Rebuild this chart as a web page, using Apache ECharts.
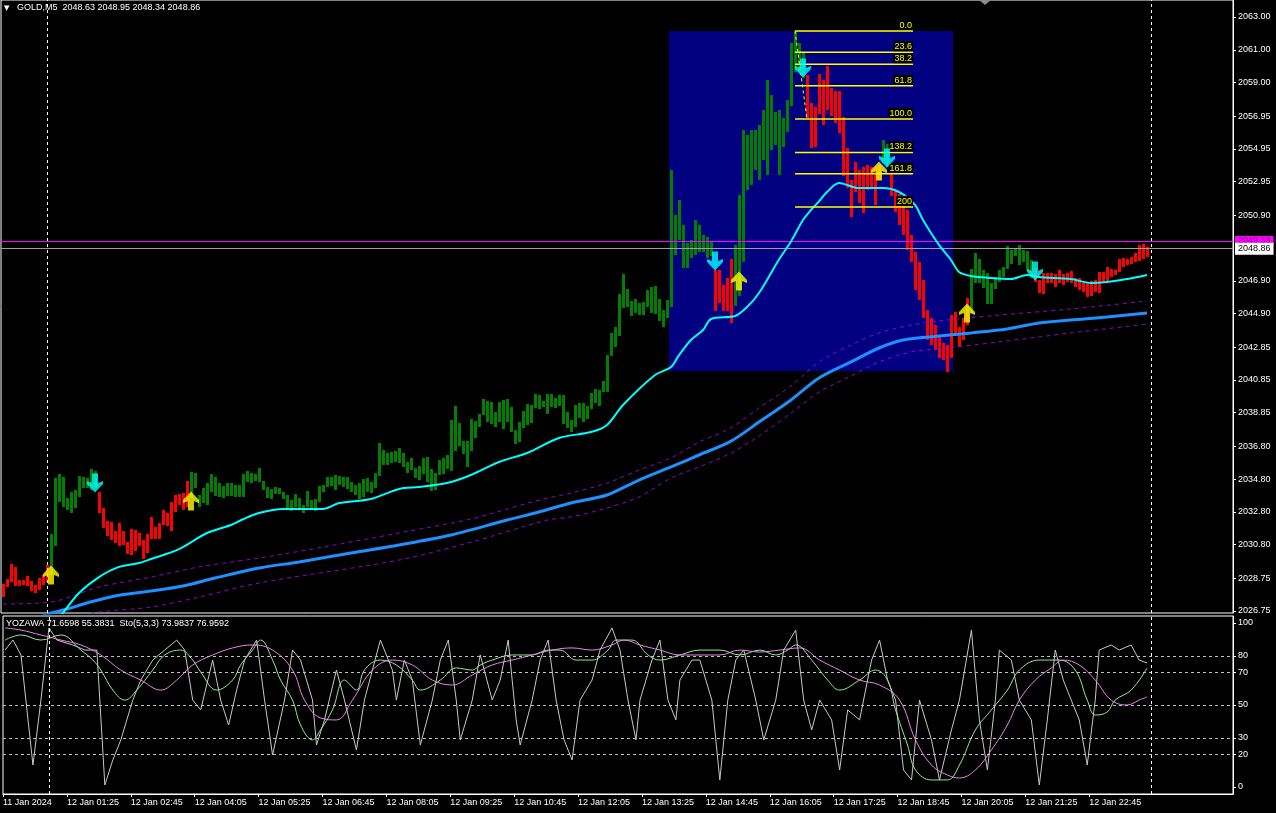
<!DOCTYPE html>
<html><head><meta charset="utf-8">
<script src="https://cdn.jsdelivr.net/npm/echarts@6/dist/echarts.min.js"></script>
<style>html,body{margin:0;padding:0;background:#000;}#c{width:1276px;height:813px;}</style>
</head><body><div id="c"></div>
<script>
// ---------------- DATA ----------------
const symbolName = 'GOLD,M5';
const headerQuote = '2048.63 2048.95 2048.34 2048.86';
const oscTitle = 'YOZAWA 71.6598 55.3831  Sto(5,3,3) 73.9837 76.9592';

const timeLabels = ['11 Jan 2024','12 Jan 01:25','12 Jan 02:45','12 Jan 04:05','12 Jan 05:25','12 Jan 06:45','12 Jan 08:05','12 Jan 09:25','12 Jan 10:45','12 Jan 12:05','12 Jan 13:25','12 Jan 14:45','12 Jan 16:05','12 Jan 17:25','12 Jan 18:45','12 Jan 20:05','12 Jan 21:25','12 Jan 22:45'];
const priceTickLabels = ['2063.00','2061.00','2059.00','2056.95','2054.95','2052.95','2050.90','2046.90','2044.90','2042.85','2040.85','2038.85','2036.80','2034.80','2032.80','2030.80','2028.75','2026.75'];
const oscTickLabels = [100, 80, 70, 50, 30, 20, 0];
const oscLevels = [80, 70, 50, 30, 20];

const barHigh = [
2028.40,2028.70,2029.62,2029.44,2028.64,2028.64,2028.89,2028.58,2028.34,2028.76,
2028.95,2029.56,2031.45,2034.86,2035.11,2034.93,2033.65,2034.01,2034.13,2034.99,
2034.93,2034.86,2035.41,2035.29,2034.01,2033.04,2032.24,2032.18,2031.63,2032.12,
2031.63,2030.96,2031.76,2031.69,2031.51,2031.08,2031.45,2032.48,2031.88,2032.12,
2032.91,2032.73,2033.40,2033.83,2033.89,2033.95,2034.68,2035.23,2035.17,2033.83,
2034.26,2034.56,2035.11,2034.93,2034.56,2034.38,2034.56,2034.56,2034.44,2034.44,
2035.11,2035.29,2035.17,2035.11,2035.47,2034.68,2034.32,2034.19,2034.32,2034.26,
2034.01,2033.83,2033.52,2033.89,2033.65,2033.22,2034.07,2033.52,2033.58,2034.38,
2034.44,2034.93,2034.93,2035.05,2034.99,2034.93,2034.93,2034.62,2034.44,2034.56,
2034.80,2034.86,2034.62,2035.17,2037.00,2036.58,2036.39,2036.45,2036.51,2036.70,
2036.39,2035.84,2036.09,2035.47,2035.60,2036.09,2036.15,2035.41,2035.17,2035.96,
2036.09,2036.27,2038.41,2039.26,2038.22,2037.12,2037.12,2038.47,2038.35,2038.77,
2039.69,2039.57,2039.50,2038.89,2039.50,2039.63,2039.69,2039.20,2037.80,2038.28,
2038.96,2039.38,2039.32,2039.99,2039.93,2039.57,2039.99,2039.99,2039.75,2039.93,
2039.93,2038.89,2038.41,2039.32,2039.44,2039.44,2039.26,2040.05,2040.30,2040.24,
2040.79,2042.37,2043.72,2044.08,2046.10,2047.32,2046.40,2045.67,2045.79,2045.55,
2045.61,2046.34,2046.52,2046.58,2045.79,2045.12,2045.73,2053.66,2050.92,2051.83,
2050.31,2049.21,2049.39,2050.61,2050.31,2049.70,2049.57,2049.27,2047.56,2047.56,
2046.64,2047.07,2048.23,2049.09,2052.14,2056.10,2055.80,2056.10,2056.10,2056.41,
2057.32,2059.16,2058.24,2057.20,2057.32,2056.84,2057.93,2061.41,2062.08,2061.41,
2060.80,2059.46,2057.75,2057.51,2059.52,2059.16,2060.01,2058.67,2058.48,2058.48,
2056.90,2055.01,2053.05,2054.15,2053.66,2053.85,2053.97,2053.85,2053.85,2053.97,
2055.49,2055.25,2054.09,2052.44,2052.20,2051.53,2051.22,2049.70,2048.66,2048.05,
2046.95,2045.12,2044.63,2044.20,2043.59,2043.11,2042.98,2044.81,2045.00,2044.08,
2044.63,2045.85,2047.62,2048.60,2048.23,2047.56,2047.38,2046.77,2047.13,2047.56,
2047.74,2049.02,2048.78,2048.90,2049.09,2048.78,2048.72,2048.17,2047.68,2046.95,
2047.38,2047.38,2047.38,2047.32,2047.56,2047.32,2047.38,2047.50,2047.07,2047.07,
2046.77,2046.77,2046.89,2046.95,2047.44,2047.44,2047.74,2047.62,2047.56,2048.23,
2048.29,2048.23,2048.35,2048.60,2049.09,2049.15,2048.95];
const barLow = [
2027.60,2028.21,2028.52,2028.28,2028.28,2028.34,2028.28,2027.97,2027.85,2028.03,
2028.34,2028.52,2028.95,2030.71,2033.40,2033.10,2032.91,2032.73,2033.04,2033.71,
2034.26,2034.26,2034.13,2034.26,2032.73,2031.82,2031.33,2031.08,2030.90,2030.71,
2030.78,2030.23,2030.17,2030.41,2030.71,2029.92,2030.29,2031.14,2031.14,2031.14,
2032.00,2031.94,2031.63,2032.79,2033.22,2032.91,2033.10,2033.65,2034.26,2033.10,
2033.34,2033.22,2034.01,2033.77,2033.71,2033.65,2033.77,2033.77,2033.71,2033.71,
2033.71,2034.62,2034.56,2034.68,2034.62,2034.13,2033.65,2033.58,2033.89,2033.89,
2033.58,2033.04,2032.85,2033.10,2032.97,2032.73,2033.10,2032.97,2032.85,2033.40,
2034.01,2034.32,2034.38,2034.13,2034.44,2034.32,2034.19,2034.01,2033.83,2033.58,
2033.71,2034.01,2033.95,2034.26,2034.99,2035.66,2035.66,2035.78,2035.84,2035.78,
2035.54,2035.17,2035.35,2034.86,2034.74,2035.11,2034.62,2034.07,2034.13,2035.05,
2035.11,2035.41,2035.29,2036.51,2036.82,2036.33,2035.54,2036.51,2037.31,2037.98,
2038.71,2038.28,2038.16,2037.98,2038.28,2037.86,2038.28,2037.67,2036.94,2037.06,
2037.92,2038.10,2038.22,2039.14,2039.08,2039.20,2038.77,2039.20,2039.14,2039.26,
2038.16,2037.92,2037.67,2037.98,2038.53,2038.28,2038.47,2039.08,2039.44,2039.26,
2040.12,2040.12,2042.31,2042.86,2043.53,2045.24,2045.30,2044.75,2044.94,2044.81,
2044.81,2045.30,2044.94,2044.87,2044.45,2044.08,2044.63,2045.30,2048.48,2049.39,
2047.68,2047.68,2048.29,2048.48,2048.66,2048.66,2048.29,2048.41,2045.06,2045.55,
2045.06,2045.06,2044.33,2045.36,2045.97,2048.05,2052.44,2052.75,2053.66,2053.05,
2054.27,2053.36,2054.88,2055.19,2053.36,2055.07,2055.98,2057.57,2059.64,2059.64,
2059.28,2056.84,2055.01,2055.07,2057.08,2056.41,2057.32,2056.96,2056.53,2055.92,
2053.30,2052.56,2050.79,2052.32,2051.65,2051.04,2052.44,2052.56,2051.53,2053.05,
2054.09,2053.85,2052.08,2051.10,2050.31,2049.70,2048.78,2048.05,2046.34,2045.73,
2044.63,2043.29,2042.98,2042.68,2042.19,2042.07,2041.34,2042.19,2043.59,2042.86,
2043.29,2044.20,2044.94,2046.77,2046.77,2046.46,2045.49,2045.49,2046.40,2046.83,
2047.13,2047.62,2047.93,2048.41,2047.87,2048.05,2047.56,2047.07,2046.83,2046.16,
2046.10,2046.77,2046.77,2046.52,2046.77,2046.64,2046.83,2046.77,2046.52,2046.34,
2046.22,2045.91,2045.97,2046.22,2046.16,2046.83,2046.89,2047.13,2047.25,2047.44,
2047.74,2047.87,2047.93,2048.05,2048.11,2048.23,2048.34];
const barUp = [
0,0,0,0,0,0,0,0,0,0, 0,0,1,1,1,1,1,1,1,1, 1,1,1,1,0,0,0,0,0,0, 0,0,0,0,0,0,0,0,0,0,
0,0,0,0,0,0,0,1,1,1, 1,1,1,1,1,1,1,1,1,1, 1,1,1,1,1,1,1,1,1,1, 1,1,1,1,1,1,1,1,1,1,
1,1,1,1,1,1,1,1,1,1, 1,1,1,1,1,1,1,1,1,1, 1,1,1,1,1,1,1,1,1,1, 1,1,1,1,1,1,1,1,1,1,
1,1,1,1,1,1,1,1,1,1, 1,1,1,1,1,1,1,1,1,1, 1,1,1,1,1,1,1,1,1,1, 1,1,1,1,1,1,1,1,1,1,
1,1,1,1,1,1,1,1,1,1, 1,1,1,1,1,1,1,1,0,0, 0,0,0,1,1,1,1,1,1,1, 1,1,1,1,1,1,1,1,1,1,
1,0,0,0,0,0,0,0,0,0, 0,0,0,0,0,0,0,0,0,0, 1,1,0,0,0,0,0,0,0,0, 0,0,0,0,0,0,0,0,0,0,
0,0,1,1,1,1,1,1,1,1, 1,1,1,1,1,1,1,1,0,0, 0,0,0,0,0,0,0,0,0,0, 0,0,0,0,0,0,0,0,0,0,
0,0,0,0,0,0,0];

const fastMA = [[13,2025.9],[15,2026.63],[19,2027.85],[24,2028.82],[29,2029.44],[34,2029.68],[37,2029.92],[44,2030.53],[51,2031.51],[57,2032.00],[60,2032.35],[64,2032.73],[70,2032.98],[80,2032.98],[84,2033.34],[92,2033.59],[99,2034.20],[104,2034.32],[111,2034.56],[117,2035.05],[124,2035.84],[131,2036.39],[139,2037.31],[147,2037.67],[151,2038.10],[155,2039.32],[163,2041.15],[167,2041.64],[169,2042.37],[172,2043.29],[175,2043.90],[177,2044.57],[183,2044.75],[186,2045.30],[189,2046.16],[194,2048.20],[197,2049.30],[200,2050.61],[202,2051.22],[204,2051.75],[206,2052.32],[209,2052.87],[214,2052.56],[220,2052.56],[224,2052.32],[228,2051.53],[230,2050.61],[234,2049.09],[237,2048.17],[239,2047.44],[242,2047.19],[247,2047.07],[252,2047.01],[256,2047.26],[259,2047.13],[267,2047.01],[272,2046.77],[276,2046.83],[281,2047.01],[286,2047.26]];
const slowMA = [[10,2026.45],[12,2026.63],[16,2026.87],[21,2027.24],[28,2027.67],[37,2027.97],[45,2028.28],[53,2028.76],[64,2029.37],[74,2029.74],[87,2030.29],[99,2030.78],[112,2031.39],[126,2032.30],[134,2032.79],[142,2033.34],[151,2033.83],[159,2034.74],[167,2035.54],[174,2036.27],[182,2037.12],[189,2038.28],[197,2039.63],[204,2040.97],[212,2041.95],[219,2042.80],[225,2043.29],[234,2043.53],[242,2043.72],[251,2043.96],[259,2044.33],[267,2044.51],[276,2044.69],[286,2044.94]];
const envUpper = [[0,2027.18],[12,2027.30],[24,2028.21],[37,2028.82],[49,2029.44],[64,2029.98],[80,2030.65],[99,2031.51],[117,2032.36],[126,2032.97],[134,2033.52],[142,2033.95],[151,2034.56],[159,2035.35],[167,2036.09],[174,2037.06],[182,2037.92],[189,2039.14],[197,2040.48],[204,2041.95],[212,2042.98],[219,2043.72],[227,2044.20],[234,2044.45],[249,2044.81],[267,2045.18],[286,2045.67]];
const envLower = [[18,2026.40],[24,2026.69],[37,2026.99],[49,2027.60],[64,2028.46],[99,2029.86],[117,2030.95],[136,2032.30],[142,2032.49],[151,2033.04],[159,2033.71],[167,2034.87],[174,2035.54],[182,2036.39],[189,2037.43],[197,2038.83],[204,2040.11],[212,2041.09],[219,2041.95],[227,2042.56],[234,2042.74],[249,2043.17],[267,2043.72],[286,2044.26]];

const upArrows = [[12,2028.95],[47,2033.46],[184,2046.89],[219,2053.60],[241,2044.94]];
const downArrows = [[23,2034.56],[178,2048.11],[200,2059.89],[221,2054.40],[258,2047.50]];

const fibLevelLabels = ['0.0','23.6','38.2','61.8','100.0','138.2','161.8','200'];
const fibPrices = [2062.15,2060.85,2060.12,2058.80,2056.78,2054.73,2053.44,2051.41];
const fibSpanBars = [198, 227.5];
const fibAnchor = [[198,2062.15],[201,2056.78]];
const boxBars = [166.5, 237.5];
const boxPrices = [2062.15, 2041.40];
const askPrice = 2049.33;
const bidPrice = 2048.86;
const separatorBars = [11, 287];

const oscSilver = [[0,83.5],[2,89.6],[4,80.5],[7,13.4],[9,53],[11,97],[13,89.6],[17,86.6],[20,83.5],[23,83.5],[25,1.2],[27,16.5],[29,28.7],[32,53],[34,65.2],[37,77.4],[40,83.5],[43,89.6],[45,83.5],[47,53],[49,47],[52,77.4],[54,53],[56,37.8],[58,59.1],[60,77.4],[63,89.6],[65,53],[67,19.5],[70,53],[72,83.5],[74,77.4],[77,53],[78,25.6],[80,40.9],[83,71.3],[85,53],[88,22.6],[90,53],[94,89.6],[97,71.3],[98,53],[100,77.4],[102,65.2],[104,25.6],[107,53],[109,77.4],[111,89.6],[113,53],[114,28.7],[117,53],[119,80.5],[122,53],[124,65.2],[126,89.6],[128,40.9],[129,25.6],[132,53],[134,77.4],[136,89.6],[138,53],[140,28.7],[142,16.5],[144,53],[147,65.2],[149,83.5],[152,97],[154,83.5],[156,53],[158,28.7],[159,53],[162,77.4],[164,89.6],[166,53],[168,40.9],[169,65.2],[172,77.4],[174,77.4],[177,53],[179,4.3],[181,53],[183,77.4],[185,83.5],[188,53],[190,28.7],[193,53],[195,83.5],[198,95.7],[200,53],[202,34.8],[204,53],[207,40.9],[209,10.4],[211,47],[214,40.9],[217,77.4],[219,89.6],[221,65.2],[223,53],[225,10.4],[227,4.3],[228,28.7],[229,53],[232,28.7],[234,4.3],[237,34.8],[239,53],[242,95.7],[244,40.9],[246,10.4],[248,53],[249,83.5],[252,77.4],[254,53],[257,40.9],[259,1.2],[261,40.9],[263,83.5],[265,65.2],[267,53],[269,40.9],[271,13.4],[273,53],[274,83.5],[277,86.6],[279,83.5],[282,86.6],[284,77.4],[286,75.6]];
const oscGreen = [[0,89.6],[4,92.7],[9,89.6],[14,92.7],[19,83.5],[22,77.4],[24,71.3],[27,59.1],[30,53],[33,59.1],[37,71.3],[40,80.5],[44,83.5],[47,77.4],[49,70.1],[53,59.1],[57,65.2],[59,74.4],[62,83.5],[64,89.6],[67,77.4],[69,65.2],[72,53],[74,37.8],[77,28.7],[79,34.8],[82,47],[85,65.2],[88,59.1],[90,71.3],[94,77.4],[98,74.4],[102,65.2],[104,59.1],[109,65.2],[113,72.6],[117,71.3],[119,74.4],[122,77.4],[127,80.5],[132,80.5],[136,83.5],[139,83.5],[143,77.4],[147,77.4],[151,83.5],[153,89.6],[157,89.6],[161,80.5],[164,77.4],[169,80.5],[174,83.5],[179,83.5],[184,80.5],[189,83.5],[193,80.5],[196,83.5],[198,86.6],[202,77.4],[206,65.2],[209,59.1],[214,65.2],[218,71.3],[221,65.2],[223,47],[226,25.6],[228,10.4],[232,4.3],[236,4.3],[239,13.4],[243,34.8],[247,47],[251,59.1],[254,71.3],[259,77.4],[264,77.4],[268,71.3],[271,53],[273,43.9],[276,45.7],[278,53],[282,59.1],[286,72.6]];
const oscViolet = [[0,97],[4,95.7],[9,92.7],[14,89.6],[19,86.6],[24,80.5],[29,71.3],[34,65.2],[39,59.1],[43,65.2],[47,74.4],[52,80.5],[57,84.8],[62,86.6],[67,83.5],[72,71.3],[75,53],[79,42.1],[83,40.9],[87,53],[92,71.3],[97,77.4],[102,74.4],[107,65.2],[112,62.2],[117,68.3],[122,74.4],[127,77.4],[132,80.5],[137,83.5],[142,84.8],[147,83.5],[152,86.6],[155,89.6],[159,86.6],[164,83.5],[169,80.5],[174,80.5],[179,80.5],[184,83.5],[189,82.3],[194,83.5],[199,84.8],[204,77.4],[209,71.3],[214,65.2],[219,62.2],[224,53],[228,28.7],[232,13.4],[236,7.3],[239,5.5],[243,10.4],[247,22.6],[251,37.8],[254,53],[258,65.2],[262,72.6],[265,77.4],[269,74.4],[273,65.2],[277,53],[281,50],[284,53],[286,54.9]];

// ---------------- CHART ----------------
const FONT = 'Liberation Sans';
const chart = echarts.init(document.getElementById('c'), null, {renderer: 'canvas'});
const upPath = 'path://M8,0 L16,8 L16,11 L11,9 L11,18 L5,18 L5,9 L0,11 L0,8 Z';
const downPath = 'path://M8,18 L16,10 L16,7 L11,9 L11,0 L5,0 L5,9 L0,7 L0,10 Z';
const axisLineStyle = {show: true, onZero: false, lineStyle: {color: '#fff'}};

const option = {
  backgroundColor: '#000',
  animation: false,
  grid: [
    {left: 1, top: 0, width: 1232, height: 613, show: true, borderColor: '#fff', borderWidth: 1, backgroundColor: 'transparent'},
    {left: 1, top: 616, width: 1232, height: 178, show: true, borderColor: '#fff', borderWidth: 1, backgroundColor: 'transparent'}
  ],
  xAxis: [
    {type: 'value', gridIndex: 0, min: -0.5, max: 307.5, show: false, axisLine: {onZero: false}},
    {type: 'value', gridIndex: 1, min: -0.5, max: 307.5,
      splitLine: {show: false},
      axisLine: axisLineStyle,
      axisTick: {show: true, length: 3, lineStyle: {color: '#fff'}, customValues: timeLabels.map((_, k) => 16 * k - 0.5)},
      axisLabel: {show: true, color: '#fff', fontFamily: FONT, fontSize: 9, margin: 4, align: 'left',
        customValues: timeLabels.map((_, k) => 16 * k - 0.5),
        formatter: v => timeLabels[Math.round((v + 0.5) / 16)] || ''}
    }
  ],
  yAxis: [
    {type: 'value', gridIndex: 0, position: 'right', min: 2026.628, max: 2064.037,
      splitLine: {show: false},
      axisLine: axisLineStyle,
      axisTick: {show: true, length: 3, lineStyle: {color: '#fff'}, customValues: priceTickLabels.map(Number)},
      axisLabel: {show: true, color: '#fff', fontFamily: FONT, fontSize: 9, margin: 5,
        customValues: priceTickLabels.map(Number), formatter: v => v.toFixed(2)}
    },
    {type: 'value', gridIndex: 1, position: 'right', min: -4.27, max: 104.27,
      splitLine: {show: false},
      axisLine: axisLineStyle,
      axisTick: {show: true, length: 3, lineStyle: {color: '#fff'}, customValues: oscTickLabels},
      axisLabel: {show: true, color: '#fff', fontFamily: FONT, fontSize: 9, margin: 5, customValues: oscTickLabels}
    }
  ],
  graphic: [
    {type: 'text', left: 4, top: 5, style: {text: '\u25BC', fill: '#fff', font: '7px "DejaVu Sans"'}},
    {type: 'polygon', z: 100, shape: {points: [[979, 0], [991, 0], [985, 5]]}, style: {fill: '#8a8a8a'}},
    {type: 'text', left: 17, top: 3, style: {text: symbolName + '  ' + headerQuote, fill: '#fff', font: '9px "' + FONT + '"'}},
    {type: 'text', left: 6, top: 619, z: 100, style: {text: oscTitle, fill: '#fff', font: '9px "' + FONT + '"'}}
  ],
  series: [
    {type: 'custom', xAxisIndex: 0, yAxisIndex: 0, z: 1, silent: true,
      data: [[boxBars[0], boxBars[1], boxPrices[0], boxPrices[1]]],
      renderItem: (p, api) => {
        const a = api.coord([api.value(0), api.value(2)]);
        const b = api.coord([api.value(1), api.value(3)]);
        return {type: 'rect', shape: {x: a[0], y: a[1], width: b[0] - a[0], height: b[1] - a[1]}, style: {fill: '#000080'}};
      }},
    {type: 'custom', xAxisIndex: 0, yAxisIndex: 0, z: 3, silent: true,
      data: barHigh.map((h, i) => [i, barLow[i], h, barUp[i]]),
      encode: {x: 0, y: [1, 2]},
      renderItem: (p, api) => {
        const i = api.value(0);
        const lo = api.coord([i, api.value(1)]);
        const hi = api.coord([i, api.value(2)]);
        const x = Math.round(lo[0] - 1.5);
        const y = Math.round(hi[1]);
        const h = Math.max(1, Math.round(lo[1]) - y);
        return {type: 'rect', shape: {x: x, y: y, width: 3, height: h}, style: {fill: api.value(3) ? '#008000' : '#FF0000'}};
      }},
    {type: 'line', xAxisIndex: 0, yAxisIndex: 0, z: 4, data: envUpper, showSymbol: false, smooth: 0.3, lineStyle: {color: '#9400D3', width: 1, type: [4, 4]}},
    {type: 'line', xAxisIndex: 0, yAxisIndex: 0, z: 4, data: envLower, showSymbol: false, smooth: 0.3, lineStyle: {color: '#9400D3', width: 1, type: [4, 4]}},
    {type: 'line', xAxisIndex: 0, yAxisIndex: 0, z: 4, data: slowMA, showSymbol: false, smooth: 0.3, lineStyle: {color: '#1E90FF', width: 3}},
    {type: 'line', xAxisIndex: 0, yAxisIndex: 0, z: 5, data: fastMA, showSymbol: false, smooth: 0.3, lineStyle: {color: '#00FFFF', width: 2},
      markLine: {silent: true, symbol: ['none', 'none'], animation: false,
        data: [
          {yAxis: askPrice, lineStyle: {color: '#FF00FF', width: 1, type: 'solid'},
            label: {show: true, position: 'end', distance: 2, formatter: askPrice.toFixed(2), color: '#8B008B', backgroundColor: '#FF00FF', fontFamily: FONT, fontSize: 9, padding: [1, 3, 0, 3]}},
          {yAxis: bidPrice, lineStyle: {color: '#A0A0A0', width: 1, type: 'solid'},
            label: {show: true, position: 'end', distance: 2, formatter: bidPrice.toFixed(2), color: '#000', backgroundColor: '#fff', fontFamily: FONT, fontSize: 9, padding: [2, 3, 1, 3]}}
        ].concat(separatorBars.map(b => ({xAxis: b, lineStyle: {color: '#fff', width: 1, type: [3, 3]}, label: {show: false}})))
      }},
    {type: 'line', xAxisIndex: 0, yAxisIndex: 0, z: 6, data: fibAnchor, showSymbol: false, lineStyle: {color: '#FFFF00', width: 1, type: [3, 3]}},
    {type: 'custom', xAxisIndex: 0, yAxisIndex: 0, z: 6, silent: true,
      data: fibPrices.map((p, k) => [fibSpanBars[0], p, k]),
      renderItem: (p, api) => {
        const a = api.coord([fibSpanBars[0], api.value(1)]);
        const b = api.coord([fibSpanBars[1], api.value(1)]);
        return {type: 'group', children: [
          {type: 'line', shape: {x1: a[0], y1: a[1], x2: b[0], y2: b[1]}, style: {stroke: '#FFFF00', lineWidth: 1.5}},
          {type: 'text', style: {text: fibLevelLabels[api.value(2)], x: b[0], y: a[1] - 1, align: 'right', verticalAlign: 'bottom',
            fill: '#FFFF00', font: '9px "' + FONT + '"', backgroundColor: '#000', padding: [1, 1, 0, 1]}}
        ]};
      }},
    {type: 'scatter', xAxisIndex: 0, yAxisIndex: 0, z: 7, data: upArrows, symbol: upPath, symbolSize: [16, 19], itemStyle: {color: '#FFFF00'}, silent: true},
    {type: 'scatter', xAxisIndex: 0, yAxisIndex: 0, z: 7, data: downArrows, symbol: downPath, symbolSize: [16, 19], itemStyle: {color: '#00FFFF'}, silent: true},
    {type: 'line', xAxisIndex: 1, yAxisIndex: 1, z: 3, data: oscSilver, showSymbol: false, lineStyle: {color: '#C8C8C8', width: 1},
      markLine: {silent: true, symbol: ['none', 'none'], animation: false, label: {show: false},
        data: oscLevels.map(v => ({yAxis: v, lineStyle: {color: '#C0C0C0', width: 1, type: [3, 3]}}))
          .concat(separatorBars.map(b => ({xAxis: b, lineStyle: {color: '#fff', width: 1, type: [3, 3]}})))}},
    {type: 'line', xAxisIndex: 1, yAxisIndex: 1, z: 4, data: oscGreen, showSymbol: false, smooth: 0.4, lineStyle: {color: '#90EE90', width: 1}},
    {type: 'line', xAxisIndex: 1, yAxisIndex: 1, z: 4, data: oscViolet, showSymbol: false, smooth: 0.4, lineStyle: {color: '#EE82EE', width: 1}}
  ]
};
chart.setOption(option);
</script>
</body></html>
